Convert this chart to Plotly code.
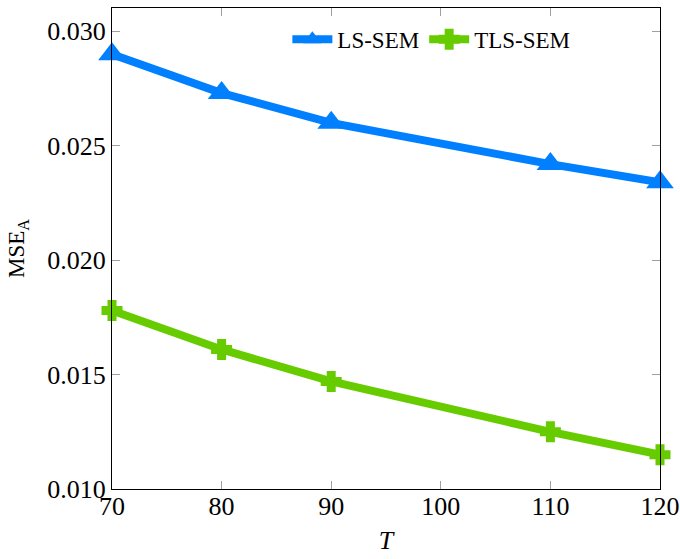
import plotly.graph_objects as go

T = [70, 80, 90, 110, 120]
ls_sem = [0.0290, 0.0273, 0.0260, 0.0242, 0.0234]
tls_sem = [0.0178, 0.0161, 0.0147, 0.0125, 0.0115]
x_ticks = [70, 80, 90, 100, 110, 120]
y_ticks = [0.010, 0.015, 0.020, 0.025, 0.030]

BLUE = "#0080FF"
GREEN = "#66CC00"
FONT = "Liberation Serif"

fig = go.Figure()
fig.add_trace(go.Scatter(
    x=T, y=ls_sem, name="LS-SEM", mode="lines+markers",
    line=dict(color=BLUE, width=8),
    marker=dict(symbol="triangle-up", size=24, color=BLUE),
    cliponaxis=False,
))
fig.add_trace(go.Scatter(
    x=T, y=tls_sem, name="TLS-SEM", mode="lines+markers",
    line=dict(color=GREEN, width=8),
    marker=dict(symbol="cross", size=15, color=GREEN, line=dict(color=GREEN, width=3)),
    cliponaxis=False,
))

axis_common = dict(
    showgrid=False, zeroline=False, showline=True, linecolor="black", linewidth=1,
    mirror="ticks", ticks="inside", tickcolor="#a0a0a0", ticklen=8, tickwidth=1,
    tickfont=dict(family=FONT, size=26, color="black"), automargin=False,
)
fig.update_xaxes(range=[70, 120], tickvals=x_ticks, ticklabelstandoff=-6, **axis_common,
                 title=dict(text="<i>T</i>", font=dict(family=FONT, size=26, color="black"), standoff=10))
fig.update_yaxes(range=[0.010, 0.03102], tickvals=y_ticks, tickformat=".3f", **axis_common,
                 title=dict(text="MSE<sub>A</sub>", font=dict(family=FONT, size=23, color="black"), standoff=16))

fig.update_layout(
    template="none",
    width=680, height=559,
    margin=dict(l=112, r=20, t=8, b=70, autoexpand=False),
    plot_bgcolor="white", paper_bgcolor="white",
    legend=dict(orientation="h", x=0.32, y=0.935, xanchor="left", yanchor="middle",
                font=dict(family=FONT, size=23, color="black"), bgcolor="rgba(0,0,0,0)",
                itemwidth=40, tracegroupgap=0),
    font=dict(family=FONT),
)

fig.write_html("out.html", config={"displayModeBar": False},
               post_script="document.body.style.margin='0';document.body.style.overflow='hidden';")
